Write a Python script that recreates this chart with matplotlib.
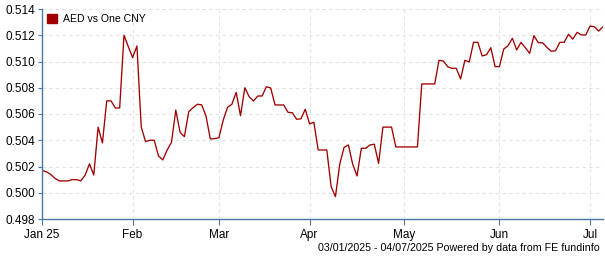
#Libraries
import numpy as np
import pandas as pd
import matplotlib.pyplot as plt

plt.rcParams['font.family'] = ['Liberation Sans', 'DejaVu Sans']

#Data (weekdays 03/01/2025 - 04/07/2025)
dates = pd.bdate_range('2025-01-03', '2025-07-04')
rates = [
    0.5017, 0.5016, 0.5014, 0.5011, 0.5009, 0.5009, 0.5009, 0.5010, 0.5010, 0.5009,
    0.50135, 0.5022, 0.50135, 0.5050, 0.5038, 0.5070, 0.5070, 0.50646, 0.50646, 0.5120,
    0.51113, 0.5103, 0.51118, 0.5050, 0.5039, 0.5040, 0.5040, 0.5028, 0.5025, 0.50326,
    0.50384, 0.5063, 0.5046, 0.50427, 0.50618, 0.50648, 0.50674, 0.5067, 0.50585, 0.5041,
    0.50412, 0.5042, 0.50554, 0.50651, 0.50674, 0.50765, 0.50587, 0.5080, 0.50732, 0.50699,
    0.50737, 0.50737, 0.50808, 0.50798, 0.50669, 0.50669, 0.50669, 0.50613, 0.5061, 0.5056,
    0.50563, 0.50636, 0.50525, 0.50537, 0.50326, 0.50326, 0.50326, 0.50046, 0.4997, 0.50219,
    0.50346, 0.50364, 0.50217, 0.50128, 0.50339, 0.50339, 0.50364, 0.5037, 0.50224, 0.5050,
    0.5050, 0.5050, 0.50349, 0.50349, 0.50349, 0.50349, 0.50349, 0.50349, 0.50829, 0.50829,
    0.50829, 0.50829, 0.51009, 0.51004, 0.5096, 0.50948, 0.50948, 0.50867, 0.51009, 0.50996,
    0.51146, 0.51146, 0.51042, 0.51052, 0.51105, 0.50961, 0.50961, 0.51095, 0.5112, 0.51177,
    0.51088, 0.51146, 0.51105, 0.51062, 0.51197, 0.51143, 0.51143, 0.51108, 0.51078, 0.51082,
    0.51146, 0.51146, 0.51207, 0.51171, 0.51222, 0.51202, 0.51202, 0.5127, 0.51265, 0.51232,
    0.51265,
]
series_label = 'AED vs One CNY'
yticks = [0.498, 0.500, 0.502, 0.504, 0.506, 0.508, 0.510, 0.512, 0.514]
footer = '03/01/2025 - 04/07/2025 Powered by data from FE fundinfo'

df = pd.DataFrame({'rate': rates}, index=dates)
pos = np.arange(len(df))

#Month ticks at first trading day of each month
months = df.index.to_period('M')
first = [i for i in range(len(df)) if i == 0 or months[i] != months[i - 1]]
labels = [df.index[i].strftime('%b') for i in first]
labels[0] = 'Jan 25'

line_col = '#a00000'
axis_col = '#4a78a8'

fig = plt.figure(figsize=(6.05, 2.6), dpi=100)
ax = fig.add_axes([42 / 605, 1 - 219 / 260, 561 / 605, 210 / 260])
ax.plot(pos, df['rate'], color=line_col, lw=0.95, label=series_label)

ax.set_xlim(0, len(df) - 1)
ax.set_ylim(0.498, 0.514)
ax.set_yticks(yticks)
ax.set_yticklabels(['%.3f' % t for t in yticks])
ax.set_xticks(first)
ax.set_xticklabels(labels)

for s in ['top', 'right']:
    ax.spines[s].set_visible(False)
for s in ['left', 'bottom']:
    ax.spines[s].set_color(axis_col)
    ax.spines[s].set_linewidth(1.0)
ax.tick_params(axis='y', length=3, color=axis_col, labelsize=8.5, pad=2)
ax.tick_params(axis='x', length=4, color=axis_col, labelsize=8.5, pad=3)
ax.grid(True, color='#e2e2e2', linestyle=(0, (3, 3)), linewidth=0.8)
ax.set_axisbelow(True)

ax.legend(handles=[plt.Rectangle((0, 0), 1, 1, color=line_col)], labels=[series_label],
          loc='upper left', frameon=False, fontsize=7.6, handlelength=1.0, handleheight=1.0,
          handletextpad=0.5, borderaxespad=0.15, borderpad=0.3)

fig.text(600 / 605, 1 - 251 / 260, footer, ha='right', va='baseline', fontsize=7.7)

fig.savefig('out.png', dpi=100)
